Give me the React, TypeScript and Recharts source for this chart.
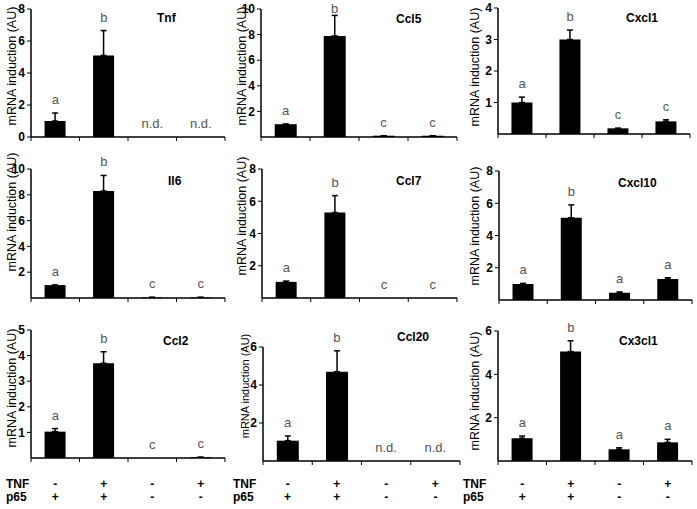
import React from 'react'
import { ComposedChart, Bar, Line, XAxis, YAxis, ErrorBar } from 'recharts'

// treatment groups, left to right
const conditions = ['TNF-/p65+', 'TNF+/p65+', 'TNF-/p65-', 'TNF+/p65-']
const tnfSigns = ['-', '+', '-', '+']
const p65Signs = ['+', '+', '-', '-']

const tnfValues = [1.0, 5.1, 0, 0]
const tnfErrors = [0.5, 1.55, 0, 0]
const tnfLetters = ['a', 'b', 'n.d.', 'n.d.']
const tnfTicks = [0, 2, 4, 6, 8]

const ccl5Values = [1.0, 7.9, 0.1, 0.1]
const ccl5Errors = [0, 1.6, 0, 0]
const ccl5Letters = ['a', 'b', 'c', 'c']
const ccl5Ticks = [2, 4, 6, 8, 10]

const cxcl1Values = [1.0, 3.0, 0.18, 0.4]
const cxcl1Errors = [0.17, 0.3, 0, 0.05]
const cxcl1Letters = ['a', 'b', 'c', 'c']
const cxcl1Ticks = [1, 2, 3, 4]

const il6Values = [1.0, 8.3, 0.05, 0.05]
const il6Errors = [0, 1.2, 0, 0]
const il6Letters = ['a', 'b', 'c', 'c']
const il6Ticks = [2, 4, 6, 8, 10]

const ccl7Values = [1.0, 5.3, 0, 0]
const ccl7Errors = [0.05, 1.05, 0, 0]
const ccl7Letters = ['a', 'b', 'c', 'c']
const ccl7Ticks = [2, 4, 6, 8]

const cxcl10Values = [1.0, 5.1, 0.45, 1.3]
const cxcl10Errors = [0.03, 0.8, 0.05, 0.08]
const cxcl10Letters = ['a', 'b', 'a', 'a']
const cxcl10Ticks = [2, 4, 6, 8]

const ccl2Values = [1.03, 3.7, 0, 0.03]
const ccl2Errors = [0.12, 0.45, 0, 0]
const ccl2Letters = ['a', 'b', 'c', 'c']
const ccl2Ticks = [1, 2, 3, 4, 5]

const ccl20Values = [1.07, 4.7, 0, 0]
const ccl20Errors = [0.25, 1.1, 0, 0]
const ccl20Letters = ['a', 'b', 'n.d.', 'n.d.']
const ccl20Ticks = [2, 4, 6]

const cx3cl1Values = [1.05, 5.05, 0.54, 0.86]
const cx3cl1Errors = [0.1, 0.5, 0.07, 0.14]
const cx3cl1Letters = ['a', 'b', 'a', 'a']
const cx3cl1Ticks = [2, 4, 6]

const FONT = '"Liberation Sans", Arial, sans-serif'
const AXIS_W = 30
const TOP_PAD = 20
const ROW_Y = [488, 501] // baselines of the TNF / p65 rows

// layout: plot box (axis x, top tick y, axis end x, baseline y), title and y-label spots
const panels = [
  { gene: 'Tnf', values: tnfValues, errors: tnfErrors, letters: tnfLetters, ticks: tnfTicks,
    box: { ax: 31, top: 9, right: 225, bottom: 137 }, title: [157, 22], ylab: [12, 66, 12.5] },
  { gene: 'Ccl5', values: ccl5Values, errors: ccl5Errors, letters: ccl5Letters, ticks: ccl5Ticks,
    box: { ax: 261, top: 9, right: 457, bottom: 137 }, title: [396, 23], ylab: [242, 66, 12.5] },
  { gene: 'Cxcl1', values: cxcl1Values, errors: cxcl1Errors, letters: cxcl1Letters, ticks: cxcl1Ticks,
    box: { ax: 498, top: 8, right: 690, bottom: 134 }, title: [626, 22], ylab: [475, 67, 12.5] },
  { gene: 'Il6', values: il6Values, errors: il6Errors, letters: il6Letters, ticks: il6Ticks,
    box: { ax: 31, top: 169, right: 225, bottom: 298 }, title: [168, 185], ylab: [12, 212, 12.5] },
  { gene: 'Ccl7', values: ccl7Values, errors: ccl7Errors, letters: ccl7Letters, ticks: ccl7Ticks,
    box: { ax: 262, top: 169, right: 457, bottom: 298 }, title: [396, 185], ylab: [242, 216, 12.5] },
  { gene: 'Cxcl10', values: cxcl10Values, errors: cxcl10Errors, letters: cxcl10Letters, ticks: cxcl10Ticks,
    box: { ax: 499, top: 171, right: 692, bottom: 300 }, title: [618, 187], ylab: [475, 226, 12.5] },
  { gene: 'Ccl2', values: ccl2Values, errors: ccl2Errors, letters: ccl2Letters, ticks: ccl2Ticks,
    box: { ax: 31, top: 330, right: 225, bottom: 458 }, title: [163, 345], ylab: [12, 388, 12.5] },
  { gene: 'Ccl20', values: ccl20Values, errors: ccl20Errors, letters: ccl20Letters, ticks: ccl20Ticks,
    box: { ax: 263, top: 347, right: 460, bottom: 461 }, title: [397, 341], ylab: [245, 386, 11] },
  { gene: 'Cx3cl1', values: cx3cl1Values, errors: cx3cl1Errors, letters: cx3cl1Letters, ticks: cx3cl1Ticks,
    box: { ax: 498, top: 331, right: 692, bottom: 461 }, title: [619, 345], ylab: [475, 391, 12.5] },
]

// x-axis tick: short marks at category boundaries, plus the +/- rows under the bottom panels
const CondTick = (props: any) => {
  const { x, y, index, width, bottomRow, axisBottom } = props
  const band = (width || 194) / conditions.length
  const left = x - band / 2
  return (
    <g>
      <line x1={left} y1={y} x2={left} y2={y + 4} stroke="#000" />
      {index === conditions.length - 1 && (
        <line x1={x + band / 2} y1={y} x2={x + band / 2} y2={y + 4} stroke="#000" />
      )}
      {bottomRow && (
        <g fontFamily={FONT} fontSize={12} fontWeight="bold" fill="#000" textAnchor="middle">
          <text x={x} y={y + ROW_Y[0] - axisBottom}>{tnfSigns[index]}</text>
          <text x={x} y={y + ROW_Y[1] - axisBottom}>{p65Signs[index]}</text>
        </g>
      )}
    </g>
  )
}

function Panel({ p, bottomRow }: { p: any; bottomRow: boolean }) {
  const data = conditions.map((c, i) => ({
    cond: c,
    value: p.values[i],
    err: [0, p.errors[i]],
    top: p.values[i] + p.errors[i],
    letter: p.letters[i],
  }))
  const left = p.box.ax - AXIS_W
  const top = p.box.top - TOP_PAD
  const xh = bottomRow ? 50 : 8
  const width = p.box.right - left + 6
  const height = p.box.bottom - top + xh

  // significance letter sits just above the error bar; kept inside the page at the very top
  const renderLetter = (dp: any) => {
    const { cx, cy, index } = dp
    const y = Math.max(cy - 9, 13 - top)
    return (
      <text key={index} x={cx} y={y} textAnchor="middle" fontFamily={FONT} fontSize={13} fill="#555">
        {data[index].letter}
      </text>
    )
  }

  return (
    <div style={{ position: 'absolute', left, top }}>
      <ComposedChart
        width={width}
        height={height}
        data={data}
        margin={{ top: TOP_PAD, right: 6, bottom: 0, left: 0 }}
        barCategoryGap="28%"
      >
        <YAxis
          width={AXIS_W}
          domain={[0, p.ticks[p.ticks.length - 1]]}
          ticks={p.ticks}
          interval={0}
          tickSize={4}
          tickMargin={2}
          axisLine={{ stroke: '#000', strokeWidth: 1.5 }}
          tickLine={{ stroke: '#000' }}
          tick={{ fill: '#000', fontSize: 12, fontWeight: 'bold', fontFamily: FONT }}
        />
        <XAxis
          dataKey="cond"
          height={xh}
          interval={0}
          tickSize={0}
          tickMargin={0}
          axisLine={{ stroke: '#000', strokeWidth: 1.5 }}
          tickLine={false}
          tick={<CondTick bottomRow={bottomRow} axisBottom={p.box.bottom} />}
        />
        <Bar dataKey="value" fill="#000" isAnimationActive={false}>
          <ErrorBar dataKey="err" width={3} stroke="#000" strokeWidth={1.5} direction="y" />
        </Bar>
        <Line
          dataKey="top"
          stroke="none"
          dot={renderLetter}
          activeDot={false}
          legendType="none"
          isAnimationActive={false}
        />
      </ComposedChart>
    </div>
  )
}

export default function App() {
  return (
    <div style={{ position: 'absolute', left: 0, top: 0, width: 697, height: 509, background: '#fff', overflow: 'hidden' }}>
      {panels.map((p, i) => (
        <Panel key={p.gene} p={p} bottomRow={i >= 6} />
      ))}
      <svg width={697} height={509} style={{ position: 'absolute', left: 0, top: 0, pointerEvents: 'none' }}>
        {panels.map((p) => (
          <g key={p.gene} fontFamily={FONT} fill="#000">
            <text x={p.title[0]} y={p.title[1]} fontSize={12} fontWeight="bold">
              {p.gene}
            </text>
            <text
              x={p.ylab[0]}
              y={p.ylab[1]}
              fontSize={p.ylab[2]}
              textAnchor="middle"
              dominantBaseline="central"
              transform={`rotate(-90 ${p.ylab[0]} ${p.ylab[1]})`}
            >
              mRNA induction (AU)
            </text>
          </g>
        ))}
        {[6, 233, 463].map((x) => (
          <g key={x} fontFamily={FONT} fontSize={12} fontWeight="bold" fill="#000">
            <text x={x} y={ROW_Y[0]}>TNF</text>
            <text x={x} y={ROW_Y[1]}>p65</text>
          </g>
        ))}
      </svg>
    </div>
  )
}
